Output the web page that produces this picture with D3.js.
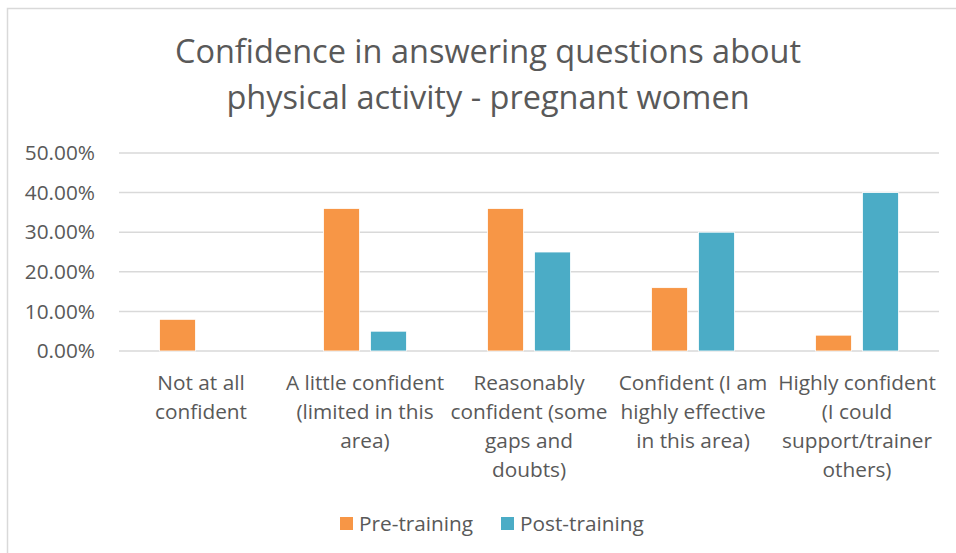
<!DOCTYPE html>
<html>
<head>
<meta charset="utf-8">
<script src="https://cdn.jsdelivr.net/npm/d3@7"></script>
<style>
  body { margin: 0; background: #fff; }
  text { font-family: "Open Sans", sans-serif; fill: #595959; }
</style>
</head>
<body>
<div id="chart"></div>
<script>
// Categories (each split into the lines shown under the axis)
const categories = [
    ["Not at all", "confident"],
    ["A little confident", "(limited in this", "area)"],
    ["Reasonably", "confident (some", "gaps and", "doubts)"],
    ["Confident (I am", "highly effective", "in this area)"],
    ["Highly confident", "(I could", "support/trainer", "others)"]
];
const seriesNames = ["Pre-training", "Post-training"];
const preTraining = [0.08, 0.36, 0.36, 0.16, 0.04];
const postTraining = [0, 0.05, 0.25, 0.30, 0.40];
const yTicks = [0, 0.1, 0.2, 0.3, 0.4, 0.5];
const colors = ["#F79646", "#4BACC6"];

const width = 956, height = 553;
const margin = {top: 153, right: 17, bottom: 202, left: 119};
const innerW = width - margin.left - margin.right;
const innerH = height - margin.top - margin.bottom;
const fontSize = "20.8px";

const svg = d3.select("#chart").append("svg")
    .attr("width", width)
    .attr("height", height);

// chart border
svg.append("rect")
    .attr("x", 7.5).attr("y", 8.5)
    .attr("width", width + 20).attr("height", height + 20)
    .attr("fill", "none")
    .attr("stroke", "#d9d9d9")
    .attr("stroke-width", 1.5);

// Title
const title = svg.append("text")
    .attr("text-anchor", "middle")
    .attr("font-size", "32.5px");
title.append("tspan").attr("x", 488).attr("y", 63).text("Confidence in answering questions about");
title.append("tspan").attr("x", 488).attr("y", 109).text("physical activity - pregnant women");

const g = svg.append("g")
    .attr("transform", "translate(" + margin.left + "," + margin.top + ")");

// Scales
const x0 = d3.scaleBand()
    .domain(d3.range(categories.length))
    .range([0, innerW]);

const x1 = d3.scaleBand()
    .domain(seriesNames)
    .range([0, x0.bandwidth()])
    .paddingInner(0.234)
    .paddingOuter(0.862);

const y = d3.scaleLinear()
    .domain([0, 0.5])
    .range([innerH, 0]);

// Gridlines
g.selectAll(".grid")
    .data(yTicks)
    .enter()
    .append("line")
    .attr("class", "grid")
    .attr("x1", 0)
    .attr("x2", innerW)
    .attr("y1", d => y(d))
    .attr("y2", d => y(d))
    .attr("stroke", "#d9d9d9")
    .attr("stroke-width", 1.5);

// Y axis
const yAxis = d3.axisLeft(y)
    .tickValues(yTicks)
    .tickFormat(d3.format(".2%"))
    .tickSize(0)
    .tickPadding(24);

g.append("g")
    .attr("class", "y-axis")
    .call(yAxis)
    .call(a => a.select(".domain").remove())
    .selectAll("text")
    .attr("font-size", fontSize)
    .attr("font-family", "'Open Sans', sans-serif")
    .attr("fill", "#595959");

// Bars
const rows = categories.map((c, i) => ({i: i, values: [preTraining[i], postTraining[i]]}));

const groups = g.selectAll(".cat")
    .data(rows)
    .enter()
    .append("g")
    .attr("class", "cat")
    .attr("transform", d => "translate(" + x0(d.i) + ",0)");

groups.selectAll("rect")
    .data(d => d.values.map((v, k) => ({name: seriesNames[k], value: v, k: k})))
    .enter()
    .append("rect")
    .attr("x", d => x1(d.name))
    .attr("y", d => y(d.value))
    .attr("width", x1.bandwidth())
    .attr("height", d => innerH - y(d.value))
    .attr("fill", d => colors[d.k])
    .attr("stroke", "#fff")
    .attr("stroke-width", d => d.value > 0 ? 0.8 : 0);

// Category labels
const labels = g.selectAll(".cat-label")
    .data(categories)
    .enter()
    .append("text")
    .attr("class", "cat-label")
    .attr("text-anchor", "middle")
    .attr("font-size", fontSize)
    .attr("transform", (d, i) => "translate(" + (x0(i) + x0.bandwidth() / 2) + "," + (innerH + 39) + ")");

labels.selectAll("tspan")
    .data(d => d)
    .enter()
    .append("tspan")
    .attr("x", 0)
    .attr("y", (d, i) => i * 29)
    .text(d => d);

// Legend
const legend = svg.append("g")
    .attr("transform", "translate(340,524)");

const legendX = [0, 161];
seriesNames.forEach((name, k) => {
    legend.append("rect")
        .attr("x", legendX[k])
        .attr("y", -7)
        .attr("width", 13)
        .attr("height", 13)
        .attr("fill", colors[k]);
    legend.append("text")
        .attr("x", legendX[k] + 19)
        .attr("y", 7)
        .attr("font-size", fontSize)
        .text(name);
});
</script>
</body>
</html>
